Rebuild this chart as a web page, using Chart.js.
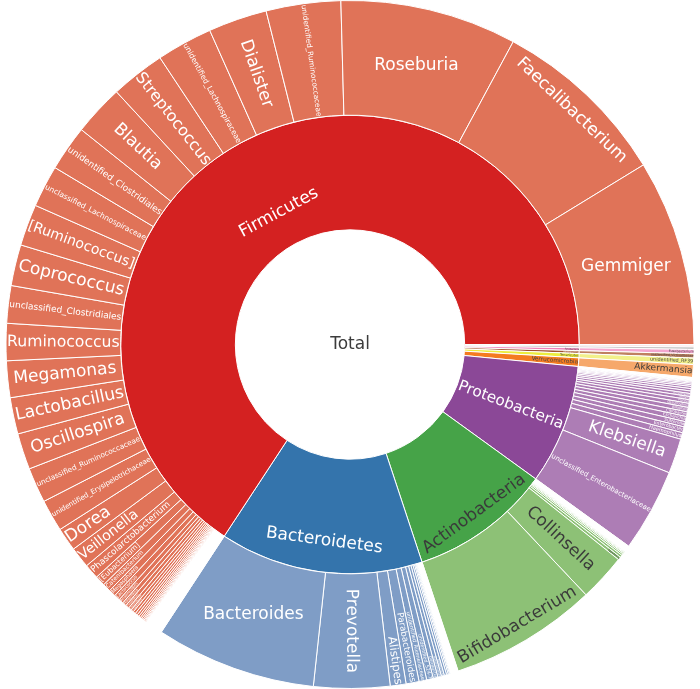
<!DOCTYPE html>
<html>
<head>
<meta charset="utf-8">
<script src="https://cdn.jsdelivr.net/npm/chart.js@4/dist/chart.umd.min.js"></script>
<style>
html,body{margin:0;padding:0;background:#ffffff;}
#wrap{width:700px;height:689px;}
</style>
</head>
<body>
<div id="wrap"><canvas id="c" width="700" height="689"></canvas></div>
<script>
// ---- DATA (percent of total reads), counter-clockwise order from 3 o'clock ----
const rootLabel = "Total";
const phyla = ["Firmicutes","Bacteroidetes","Actinobacteria","Proteobacteria","Verrucomicrobia","Tenericutes","Lentisphaerae","Fusobacteria","Cyanobacteria","Synergistetes","TM7"];
const phylumValues = [65.75, 14.33, 9.94, 8.44, 0.60, 0.30, 0.20, 0.20, 0.12, 0.07, 0.04];

const firmicutesGenera = ["Gemmiger","Faecalibacterium","Roseburia","unidentified_Ruminococcaceae","Dialister","unidentified_Lachnospiraceae","Streptococcus","Blautia","unidentified_Clostridiales","unclassified_Lachnospiraceae","[Ruminococcus]","Coprococcus","unclassified_Clostridiales","Ruminococcus","Megamonas","Lactobacillus","Oscillospira","unclassified_Ruminococcaceae","unidentified_Erysipelotrichaceae","Dorea","Veillonella","Phascolarctobacterium","[Eubacterium]","Catenibacterium","Megasphaera","Lactococcus","Anaerostipes","Holdemania","Clostridium","Coprobacillus","Enterococcus","Butyricicoccus","Turicibacter","Mitsuokella","Sarcina","Weissella","Pediococcus","Leuconostoc","Anaerotruncus","Acidaminococcus","SMB53"];
const firmicutesValues = [8.74, 8.39, 8.29, 3.50, 2.76, 2.63, 2.56, 2.39, 2.14, 1.97, 1.95, 1.93, 1.76, 1.74, 1.72, 1.71, 1.70, 1.65, 1.50, 1.10, 0.98, 0.70, 0.48, 0.39, 0.33, 0.28, 0.22, 0.19, 0.17, 0.15, 0.13, 0.12, 0.11, 0.10, 0.09, 0.08, 0.07, 0.06, 0.05, 0.04, 0.03];

const bacteroidetesGenera = ["Bacteroides","Prevotella","Alistipes","Parabacteroides","unidentified_Rikenellaceae","unidentified_S24-7","Odoribacter","Butyricimonas","Paraprevotella","[Prevotella]","Barnesiella","unclassified_Bacteroidales","Porphyromonas"];
const bacteroidetesValues = [7.54, 3.57, 0.74, 0.61, 0.36, 0.31, 0.22, 0.17, 0.14, 0.11, 0.08, 0.06, 0.04];

const actinobacteriaGenera = ["Bifidobacterium","Collinsella","Eggerthella","Adlercreutzia","Slackia","Actinomyces","Rothia","Corynebacterium"];
const actinobacteriaValues = [6.94, 2.22, 0.14, 0.11, 0.08, 0.06, 0.04, 0.03];

const proteobacteriaGenera = ["unclassified_Enterobacteriaceae","Klebsiella","Haemophilus","Enterobacter","Sutterella","Escherichia","Citrobacter","Bilophila","Desulfovibrio","Proteus","Serratia","Acinetobacter","Pseudomonas","Morganella","Oxalobacter","Campylobacter","Helicobacter","Neisseria","Pantoea","Erwinia"];
const proteobacteriaValues = [3.89, 1.64, 0.31, 0.28, 0.25, 0.24, 0.22, 0.21, 0.19, 0.17, 0.15, 0.14, 0.12, 0.11, 0.10, 0.08, 0.07, 0.06, 0.04, 0.03];

const verrucomicrobiaGenera = ["Akkermansia"];
const verrucomicrobiaValues = [0.60];
const tenericutesGenera = ["unidentified_RF39"];
const tenericutesValues = [0.30];
const lentisphaeraeGenera = ["unidentified_Victivallaceae"];
const lentisphaeraeValues = [0.20];
const fusobacteriaGenera = ["Fusobacterium"];
const fusobacteriaValues = [0.20];
const cyanobacteriaGenera = ["unidentified_YS2"];
const cyanobacteriaValues = [0.12];
const synergistetesGenera = ["Cloacibacillus"];
const synergistetesValues = [0.07];
const tm7Genera = ["unidentified_F16"];
const tm7Values = [0.04];

const generaByPhylum = [firmicutesGenera, bacteroidetesGenera, actinobacteriaGenera, proteobacteriaGenera, verrucomicrobiaGenera, tenericutesGenera, lentisphaeraeGenera, fusobacteriaGenera, cyanobacteriaGenera, synergistetesGenera, tm7Genera];
const valuesByPhylum = [firmicutesValues, bacteroidetesValues, actinobacteriaValues, proteobacteriaValues, verrucomicrobiaValues, tenericutesValues, lentisphaeraeValues, fusobacteriaValues, cyanobacteriaValues, synergistetesValues, tm7Values];

// ---- STYLE ----
const innerColors = ["#D42121","#3474AC","#46A348","#8B4897","#F47B20","#EDED3C","#A0522D","#EE82BB","#999999","#E86A6A","#6F9BCB"];
const outerColors = ["#E07358","#7F9DC6","#8DC176","#AD7DB5","#F6A86B","#F2F08A","#C08060","#F4A6CF","#C4C4C4","#F0A0A0","#A8C4E4"];
const innerText = ["#ffffff","#ffffff","#3a3a3a","#ffffff","#444444","#444444","#ffffff","#444444","#444444","#444444","#444444"];
const outerText = ["#ffffff","#ffffff","#3a3a3a","#ffffff","#3a3a3a","#444444","#444444","#444444","#444444","#444444","#444444"];
const FONT_SIZE = 17;
const FONT_FAMILY = '"DejaVu Sans", Verdana, sans-serif';

// ---- build rings (Chart.js draws clockwise, so the ccw order is reversed) ----
const outer = {names:[], values:[], bg:[], txt:[]};
phyla.forEach((p, i) => {
  const g = generaByPhylum[i], v = valuesByPhylum[i];
  let sum = 0;
  g.forEach((name, k) => {
    outer.names.push(name); outer.values.push(v[k]); outer.bg.push(outerColors[i]); outer.txt.push(outerText[i]);
    sum += v[k];
  });
  const rest = phylumValues[i] - sum;
  if (rest > 0.0005) {
    outer.names.push(""); outer.values.push(rest); outer.bg.push("rgba(255,255,255,0)"); outer.txt.push("#000");
  }
});
const inner = {names: phyla.slice(), values: phylumValues.slice(), bg: innerColors.slice(0, phyla.length), txt: innerText.slice(0, phyla.length)};
[outer, inner].forEach(r => { r.names.reverse(); r.values.reverse(); r.bg.reverse(); r.txt.reverse(); });

// ---- plotly-like inside text placement ----
function calcMaxHalfSize(a, halfAngle, r, ring) {
  const q = a + 1 / (2 * Math.tan(halfAngle));
  return r * Math.min(1 / (Math.sqrt(q * q + 0.5) + q), ring / (Math.sqrt(a * a + ring / 2) + a));
}
function calcRotate(tDeg) { return ((tDeg + 720) % 180) - 90; }
function angleDelta(d) { return Math.atan2(Math.sin(d), Math.cos(d)); }

function drawSliceLabel(ctx, name, color, cx, cy, startA, endA, r0, r1) {
  ctx.font = FONT_SIZE + 'px ' + FONT_FAMILY;
  const w = ctx.measureText(name).width;
  const h = FONT_SIZE * 1.164;
  const span = endA - startA;
  const midA = (startA + endA) / 2;
  const theta = -midA;
  let best;
  if (r0 === 0) {
    best = {scale: 1, rc: 0, rot: 0};
  } else {
    const half = 0.5 * Math.min(angleDelta(span) || Math.PI, Math.PI);
    const ring = 1 - r0 / r1;
    const rIns = Math.max(0, Math.min(1 / (1 + 1 / Math.sin(half)), ring / 2));
    const diag = Math.sqrt(w * w + h * h);
    const hT = {scale: rIns * r1 * 2 / diag, rc: 1 - rIns, rot: 0};
    if (hT.scale >= 1) best = hT;
    else {
      const cands = [hT];
      const rr = Math.max(0, r1 - 6);
      const tDeg = 90 - theta * 180 / Math.PI;
      let a = w / h, s = calcMaxHalfSize(a, half, rr, ring);
      cands.push({scale: 2 * s / h, rc: Math.cos(s / rr) - a * s / rr, rot: calcRotate(tDeg)});
      a = h / w; s = calcMaxHalfSize(a, half, rr, ring);
      cands.push({scale: 2 * s / w, rc: Math.cos(s / rr) - a * s / rr, rot: calcRotate(tDeg + 90)});
      best = cands[0];
      for (const c of cands) if (c.scale > best.scale) best = c;
    }
  }
  const sc = Math.min(1, best.scale);
  if (!(sc * FONT_SIZE >= 2.2)) return;
  const tx = cx + best.rc * r1 * Math.cos(theta);
  const ty = cy - best.rc * r1 * Math.sin(theta);
  ctx.save();
  ctx.translate(tx, ty);
  ctx.scale(sc, sc);
  ctx.rotate(best.rot * Math.PI / 180);
  ctx.fillStyle = color;
  ctx.textAlign = 'center';
  ctx.textBaseline = 'middle';
  ctx.fillText(name, 0, 0);
  ctx.restore();
}

const labelPlugin = {
  id: 'sunLabels',
  afterDatasetsDraw(chart) {
    const ctx = chart.ctx;
    let cx = 0, cy = 0;
    chart.data.datasets.forEach((ds, di) => {
      const meta = chart.getDatasetMeta(di);
      meta.data.forEach((arc, j) => {
        const name = ds.names[j];
        const p = arc.getProps(['x','y','startAngle','endAngle','innerRadius','outerRadius'], true);
        cx = p.x; cy = p.y;
        if (!name) return;
        drawSliceLabel(ctx, name, ds.txtColors[j], p.x, p.y, p.startAngle, p.endAngle, p.innerRadius, p.outerRadius);
      });
    });
    drawSliceLabel(ctx, rootLabel, '#3c3c3c', cx, cy, 0, 2 * Math.PI, 0, 100);
  }
};

new Chart(document.getElementById('c'), {
  type: 'doughnut',
  data: {
    labels: outer.names,
    datasets: [
      {data: outer.values, backgroundColor: outer.bg, borderColor: '#ffffff', borderWidth: 1, names: outer.names, txtColors: outer.txt},
      {data: inner.values, backgroundColor: inner.bg, borderColor: '#ffffff', borderWidth: 1, names: inner.names, txtColors: inner.txt}
    ]
  },
  options: {
    responsive: false,
    animation: false,
    rotation: 90,
    cutout: '33.33%',
    layout: {padding: {top: -2, bottom: -2, left: 0, right: 0}},
    plugins: {legend: {display: false}, tooltip: {enabled: false}}
  },
  plugins: [labelPlugin]
});
</script>
</body>
</html>
